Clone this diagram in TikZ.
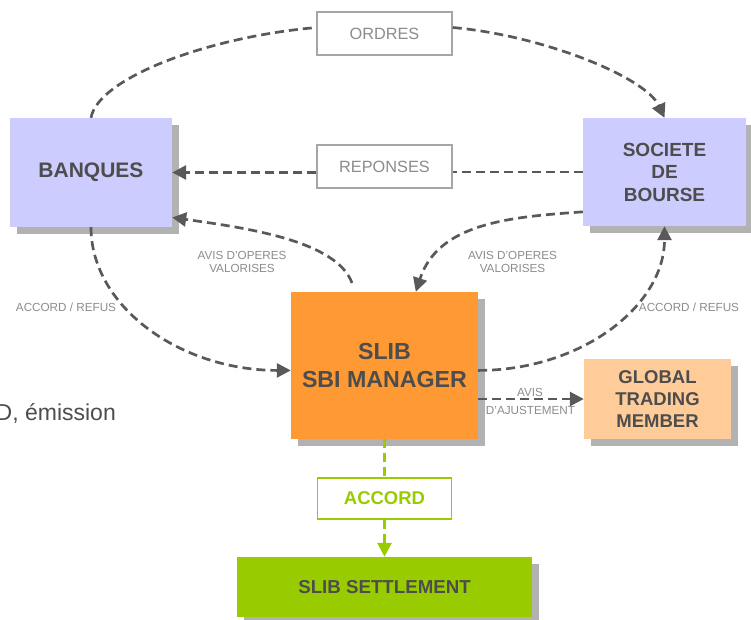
\documentclass[tikz,border=0pt]{standalone}
\usepackage{fontspec}
\setmainfont{Liberation Sans}
\usetikzlibrary{arrows.meta,shadows}

\definecolor{bankblue}{HTML}{CCCCFF}
\definecolor{sliborange}{HTML}{FF9933}
\definecolor{gtmpeach}{HTML}{FFCC99}
\definecolor{settlegreen}{HTML}{99CC00}
\definecolor{shadowgray}{HTML}{B2B2B2}
\definecolor{textgray}{HTML}{4D4D4D}
\definecolor{linegray}{HTML}{595959}
\definecolor{labelgray}{HTML}{8C8C8C}
\definecolor{framegray}{HTML}{A6A6A6}

\begin{document}
\begin{tikzpicture}[x=1pt, y=1pt,
        flux/.style={line width=2.7pt, linegray, dash pattern=on 9pt off 5pt},
        fleche/.style={flux, -{Triangle[length=14pt,width=14pt]}},
        bloc/.style={inner sep=0pt, align=center, text=textgray, font=\bfseries\fontsize{19}{22.5}\selectfont,
            drop shadow={shadow xshift=7pt, shadow yshift=-7pt, fill=shadowgray, opacity=1}},
        cadre/.style={draw=framegray, line width=1.5pt, fill=white, inner sep=0pt, minimum width=135pt,
            minimum height=43pt, text=labelgray, font=\fontsize{16.3}{19}\selectfont},
        legende/.style={text=labelgray, align=center, font=\fontsize{11.7}{13}\selectfont}]
        \useasboundingbox (0,0) rectangle (751,619);
        \node[bloc, fill=bankblue, minimum width=162pt, minimum height=109pt, font=\bfseries\fontsize{21}{24}\selectfont] (banques) at (91,446.5) {BANQUES};
        \node[bloc, fill=bankblue, minimum width=163pt, minimum height=108pt] (bourse) at (664.5,447) {SOCIETE\\DE\\BOURSE};
        \node[bloc, fill=sliborange, minimum width=187pt, minimum height=147pt, font=\bfseries\fontsize{23.2}{28}\selectfont] (sbi) at (384.5,253.5) {SLIB\\SBI MANAGER};
        \node[bloc, fill=gtmpeach, minimum width=147pt, minimum height=80pt, font=\bfseries\fontsize{18.5}{22}\selectfont] (gtm) at (657.5,220) {GLOBAL\\TRADING\\MEMBER};
        \node[bloc, fill=settlegreen, minimum width=295pt, minimum height=60pt, font=\bfseries\fontsize{18.7}{22}\selectfont] (settle) at (384.5,32) {SLIB SETTLEMENT};
        \node[cadre] (ordres) at (384.5,585.5) {ORDRES};
        \node[cadre] (reponses) at (384.5,452.5) {REPONSES};
        \node[cadre, draw=settlegreen, text=settlegreen, minimum width=134pt, minimum height=41pt, font=\bfseries\fontsize{18.5}{22}\selectfont] (accord) at (384.5,120.5) {ACCORD};
        \node[legende] (avisopl) at (242,357.5) {AVIS D'OPERES\\VALORISES};
        \node[legende] (avisopr) at (512.5,357.5) {AVIS D'OPERES\\VALORISES};
        \node[legende] (accrefl) at (66,311.5) {ACCORD / REFUS};
        \node[legende] (accrefr) at (689,311.5) {ACCORD / REFUS};
        \node[legende] (avis) at (530,227) {AVIS};
        \node[legende] (ajust) at (530.5,209) {D'AJUSTEMENT};
        \node[anchor=base west, text=textgray, font=\fontsize{23}{26}\selectfont, inner sep=0pt] (emission) at (-4.5,199) {D, émission};
        \coordinate (avisdep) at (352,336);
        \draw[flux] (banques.north) to[out=80, in=185, out distance=40pt, in distance=110pt] (ordres.175);
        \draw[fleche] (ordres.5) to[out=-5, in=115, out distance=90pt, in distance=45pt] (bourse.north);
        \draw[flux] (bourse.west) -- (reponses.east |- bourse.west);
        \draw[fleche] (reponses.west |- banques.east) -- (banques.east);
        \draw[fleche] (avisdep) to[out=110, in=-8, out distance=45pt, in distance=75pt] (banques.-29);
        \draw[fleche] (bourse.206) to[out=184, in=72] (sbi.67);
        \draw[fleche] (banques.south) to[out=-90, in=180, out distance=79.5pt, in distance=110.5pt] (sbi.183);
        \draw[fleche] (sbi.-3) to[out=0, in=-90, out distance=102.7pt, in distance=80pt] (bourse.south);
        \draw[fleche] (sbi.east |- gtm.west) -- (gtm.west);
        \draw[flux, settlegreen] (sbi.south) -- (accord.north);
        \draw[fleche, settlegreen] (accord.south) -- (settle.north);
\end{tikzpicture}
\end{document}
